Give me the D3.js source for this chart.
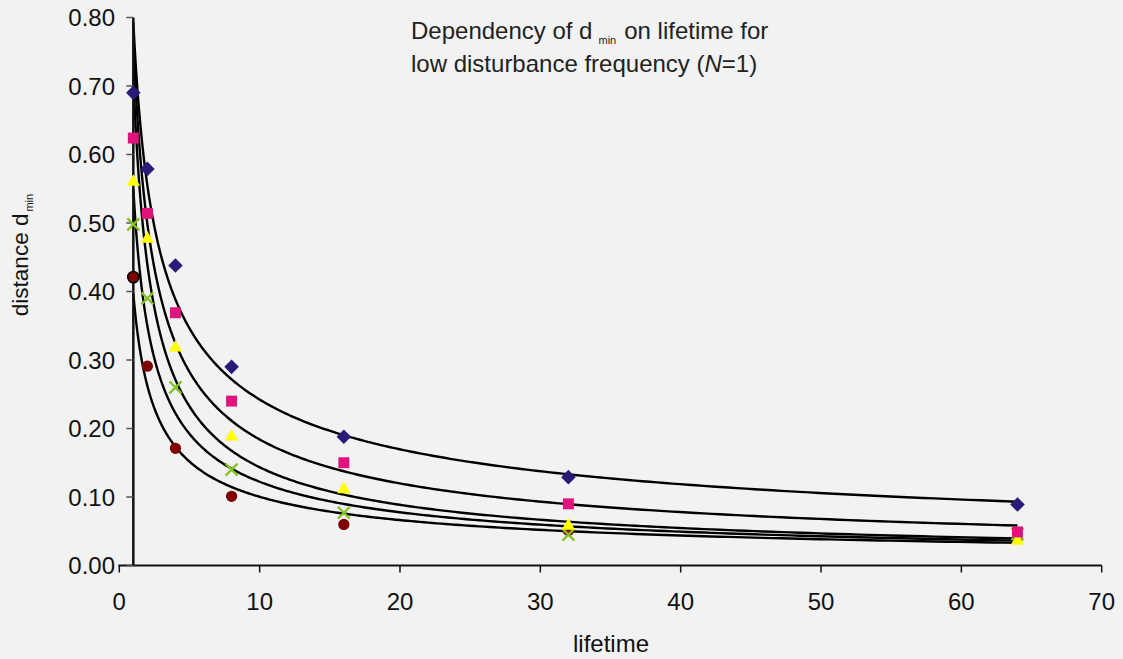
<!DOCTYPE html>
<html>
<head>
<meta charset="utf-8">
<script src="https://cdn.jsdelivr.net/npm/d3@7"></script>
<style>
body{margin:0;background:#f2f2f2;}
svg{display:block;font-family:"Liberation Sans",Arial,sans-serif;}
</style>
</head>
<body>
<script>
const m={width:1123,height:659}

// lifetimes
const lifetime=[1,2,4,8,16,32,64];
// d_min per series
const s1=[0.690,0.579,0.438,0.290,0.188,0.129,0.089];
const s2=[0.624,0.514,0.369,0.240,0.150,0.090,0.049];
const s3=[0.560,0.477,0.318,0.188,0.111,0.058,0.036];
const s4=[0.498,0.390,0.260,0.140,0.077,0.045,0.046];
const s5=[0.421,0.291,0.171,0.101,0.060,0.051,0.040];
const xTicks=[0,10,20,30,40,50,60,70];
const yTicks=[0,0.1,0.2,0.3,0.4,0.5,0.6,0.7,0.8];

const series=[
  {v:s1,shape:"diamond",color:"#2b1a78"},
  {v:s2,shape:"square",color:"#e0147c"},
  {v:s3,shape:"triangle",color:"#ffff00"},
  {v:s4,shape:"cross",color:"#84c225"},
  {v:s5,shape:"circle",color:"#7f0000"}
];

svg=d3.select("body").append("svg")
  .attr("width",m.width)
  .attr("height",m.height)

const x=d3.scaleLinear().domain([0,70]).range([119.3,1101.7]);
const y=d3.scaleLinear().domain([0,0.8]).range([565.5,17.5]);

// power trendline fit y=a*x^b, like the spreadsheet does
function powerFit(xs,ys){
  const lx=xs.map(Math.log),ly=ys.map(Math.log);
  const mx=d3.mean(lx),my=d3.mean(ly);
  let num=0,den=0;
  lx.forEach((d,i)=>{num+=(d-mx)*(ly[i]-my);den+=(d-mx)*(d-mx)});
  const b=num/den,a=Math.exp(my-b*mx);
  return t=>a*Math.pow(t,b);
}

const line=d3.line().x(d=>x(d[0])).y(d=>y(d[1]));
const sample=d3.range(0,301).map(i=>Math.pow(64,i/300));

const g=svg.append("g");
series.forEach(s=>{
  const f=powerFit(lifetime,s.v);
  g.append("path")
    .attr("d",line(sample.map(t=>[t,Math.min(f(t),0.8)])))
    .attr("fill","none")
    .attr("stroke","#000")
    .attr("stroke-width",2.4);
});

// axes
const ax=svg.append("g").attr("stroke","#111");
ax.append("line").attr("x1",x(0)-1).attr("x2",x(70)).attr("y1",y(0)).attr("y2",y(0)).attr("stroke-width",2);
ax.append("line").attr("x1",x(1)).attr("x2",x(1)).attr("y1",y(0)).attr("y2",y(0.8)).attr("stroke-width",2.5);
ax.selectAll(".xt").data(xTicks).enter().append("line")
  .attr("x1",d=>x(d)).attr("x2",d=>x(d)).attr("y1",y(0)).attr("y2",y(0)+7).attr("stroke-width",1.5);
ax.selectAll(".yt").data(yTicks).enter().append("line")
  .attr("x1",x(1)-7).attr("x2",x(1)).attr("y1",d=>y(d)).attr("y2",d=>y(d)).attr("stroke-width",1.5).attr("stroke","#555");

svg.selectAll(".xl").data(xTicks).enter().append("text")
  .attr("x",d=>x(d)).attr("y",610).attr("text-anchor","middle")
  .attr("font-size",24).attr("fill","#111").text(d=>d);
svg.selectAll(".yl").data(yTicks).enter().append("text")
  .attr("x",115).attr("y",d=>y(d)+8.5).attr("text-anchor","end")
  .attr("font-size",24).attr("fill","#111").text(d=>d.toFixed(2));

// markers, last series first so the upper ones sit on top
const pts=svg.append("g");
series.slice().reverse().forEach(s=>{
  lifetime.forEach((t,i)=>{
    const cx=x(t),cy=y(s.v[i]);
    if(s.shape=="cross"){
      pts.append("path").attr("d",`M${cx-6},${cy-6}L${cx+6},${cy+6}M${cx-6},${cy+6}L${cx+6},${cy-6}`)
        .attr("stroke",s.color).attr("stroke-width",2.3).attr("fill","none");
    }else{
      const sym={diamond:d3.symbolDiamond2,square:d3.symbolSquare,triangle:d3.symbolTriangle,circle:d3.symbolCircle}[s.shape];
      const size={diamond:135,square:120,triangle:78,circle:100}[s.shape];
      const p=pts.append("path").attr("d",d3.symbol(sym,size)())
        .attr("transform",`translate(${cx},${cy})`)
        .attr("fill",s.color);
      if(s.shape=="circle"&&t==1) p.attr("stroke","#000").attr("stroke-width",1.5);
    }
  });
});

// title
const tt=svg.append("text").attr("x",411).attr("y",39).attr("font-size",24).attr("fill","#222");
tt.append("tspan").text("Dependency of d");
tt.append("tspan").attr("font-size",11).attr("dx",6).attr("dy",5).text("min");
tt.append("tspan").attr("dy",-5).attr("dx",8).text("on lifetime for");
const t2=svg.append("text").attr("x",411).attr("y",72).attr("font-size",24).attr("fill","#222");
t2.append("tspan").text("low disturbance frequency (");
t2.append("tspan").attr("font-style","italic").text("N");
t2.append("tspan").text("=1)");

// axis labels
svg.append("text").attr("x",611).attr("y",652).attr("text-anchor","middle")
  .attr("font-size",24).attr("fill","#111").text("lifetime");
const yl=svg.append("text").attr("transform","translate(28,255) rotate(-90)")
  .attr("text-anchor","middle").attr("font-size",22.5).attr("fill","#111");
yl.append("tspan").text("distance d");
yl.append("tspan").attr("font-size",11).attr("dx",2).attr("dy",5).text("min");
</script>
</body>
</html>
